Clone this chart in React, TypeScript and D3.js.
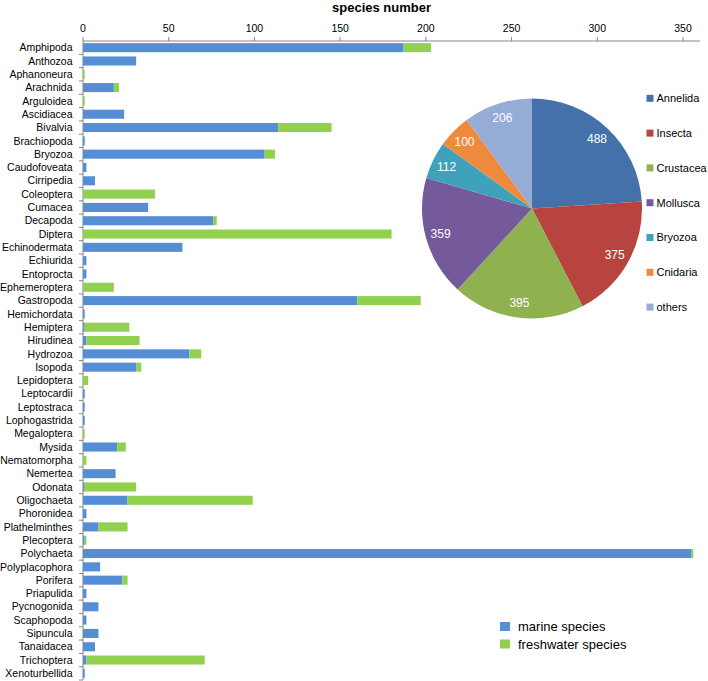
import React from "react";
import * as d3 from "d3";

const categories = [
  "Amphipoda", "Anthozoa", "Aphanoneura", "Arachnida", "Arguloidea", "Ascidiacea", "Bivalvia",
  "Brachiopoda", "Bryozoa", "Caudofoveata", "Cirripedia", "Coleoptera", "Cumacea", "Decapoda",
  "Diptera", "Echinodermata", "Echiurida", "Entoprocta", "Ephemeroptera", "Gastropoda",
  "Hemichordata", "Hemiptera", "Hirudinea", "Hydrozoa", "Isopoda", "Lepidoptera", "Leptocardii",
  "Leptostraca", "Lophogastrida", "Megaloptera", "Mysida", "Nematomorpha", "Nemertea", "Odonata",
  "Oligochaeta", "Phoronidea", "Plathelminthes", "Plecoptera", "Polychaeta", "Polyplacophora",
  "Porifera", "Priapulida", "Pycnogonida", "Scaphopoda", "Sipuncula", "Tanaidacea", "Trichoptera",
  "Xenoturbellida",
];
const marine = [
  187, 31, 0, 18, 0, 24, 114,
  1, 106, 2, 7, 0, 38, 76,
  0, 58, 2, 2, 0, 160,
  1, 1, 2, 62, 31, 0, 1,
  1, 1, 0, 20, 0, 19, 1,
  26, 2, 9, 1, 355, 10,
  23, 2, 9, 2, 9, 7, 2,
  1,
];
const freshwater = [
  16, 0, 1, 3, 1, 0, 31,
  0, 6, 0, 0, 42, 0, 2,
  180, 0, 0, 0, 18, 37,
  0, 26, 31, 7, 3, 3, 0,
  0, 0, 1, 5, 2, 0, 30,
  73, 0, 17, 1, 1, 0,
  3, 0, 0, 0, 0, 0, 69,
  0,
];
const xTicks = [0, 50, 100, 150, 200, 250, 300, 350];

const pieGroups = ["Annelida", "Insecta", "Crustacea", "Mollusca", "Bryozoa", "Cnidaria", "others"];
const pieValues = [488, 375, 395, 359, 112, 100, 206];
const pieColors = ["#4571AB", "#B7443F", "#8FB150", "#74599B", "#3FA2BA", "#ED8A3D", "#95ACD6"];

const barLegend = ["marine species", "freshwater species"];
const marineColor = "#558ED5";
const freshColor = "#92D050";

const FONT = "'Liberation Sans', Arial, sans-serif";

export default function App() {
  const W = 708, H = 681;
  const x = d3.scaleLinear().domain([0, 360]).range([83, 83 + 360 * (600 / 350)]);
  const y = d3.scaleBand<string>().domain(categories).range([41, 680]).paddingInner(0.32).paddingOuter(0.16);
  const step = y.step();

  const cx = 532, cy = 208.5, R = 110;
  const pie = d3.pie<number>().sort(null).value((d) => d).startAngle(0).endAngle(2 * Math.PI);
  const arcs = pie(pieValues);
  const arcGen = d3.arc<d3.PieArcDatum<number>>().innerRadius(0).outerRadius(R);
  const labelArc = d3.arc<d3.PieArcDatum<number>>().innerRadius(95).outerRadius(95);

  return (
    <svg width={W} height={H} style={{ position: "absolute", left: 0, top: 0, background: "#fff" }} fontFamily={FONT}>
      <rect x={0} y={0} width={W} height={H} fill="#fff" />
      {/* title */}
      <text x={381.5} y={11.5} textAnchor="middle" fontSize={13} fontWeight="bold" fill="#000">species number</text>
      {/* top axis */}
      <line x1={x(0)} x2={x(360)} y1={41} y2={41} stroke="#868686" strokeWidth={1} />
      {xTicks.map((t) => (
        <g key={t}>
          <line x1={x(t)} x2={x(t)} y1={37} y2={41} stroke="#868686" />
          <text x={x(t)} y={31.5} textAnchor="middle" fontSize={10.5} fill="#000">{t}</text>
        </g>
      ))}
      {/* y axis */}
      <line x1={83} x2={83} y1={41} y2={680} stroke="#868686" />
      {categories.map((c, i) => (
        <line key={"yt" + i} x1={79} x2={83} y1={41 + step * (i + 1)} y2={41 + step * (i + 1)} stroke="#868686" />
      ))}
      {categories.map((c, i) => (
        <text key={"yl" + i} x={72.5} y={(y(c) as number) + y.bandwidth() / 2} dy="0.35em" textAnchor="end" fontSize={10.5} fill="#000">{c}</text>
      ))}
      {/* bars */}
      {categories.map((c, i) => (
        <g key={"b" + i}>
          {marine[i] > 0 && (
            <rect x={x(0)} y={y(c)} width={x(marine[i]) - x(0)} height={y.bandwidth()} fill={marineColor} />
          )}
          {freshwater[i] > 0 && (
            <rect x={x(marine[i])} y={y(c)} width={x(marine[i] + freshwater[i]) - x(marine[i])} height={y.bandwidth()} fill={freshColor} />
          )}
        </g>
      ))}
      {/* pie */}
      <g transform={`translate(${cx},${cy})`}>
        {arcs.map((a, i) => (
          <path key={"p" + i} d={arcGen(a) as string} fill={pieColors[i]} />
        ))}
        {arcs.map((a, i) => {
          const [lx, ly] = labelArc.centroid(a);
          return (
            <text key={"pl" + i} x={lx} y={ly} dy="0.35em" textAnchor="middle" fontSize={12} fill="#fff">{pieValues[i]}</text>
          );
        })}
      </g>
      {/* pie legend */}
      {pieGroups.map((g, i) => (
        <g key={"pg" + i} transform={`translate(646.5,${98.3 + i * 34.8})`}>
          <rect x={0} y={-3.5} width={7} height={7} fill={pieColors[i]} />
          <text x={10} y={0} dy="0.35em" fontSize={11} fill="#000">{g}</text>
        </g>
      ))}
      {/* bar legend */}
      {barLegend.map((g, i) => (
        <g key={"bl" + i} transform={`translate(500,${626.5 + i * 17.5})`}>
          <rect x={0} y={-4.5} width={10} height={9} fill={i === 0 ? marineColor : freshColor} />
          <text x={18} y={0} dy="0.35em" fontSize={13} fill="#000">{g}</text>
        </g>
      ))}
    </svg>
  );
}
